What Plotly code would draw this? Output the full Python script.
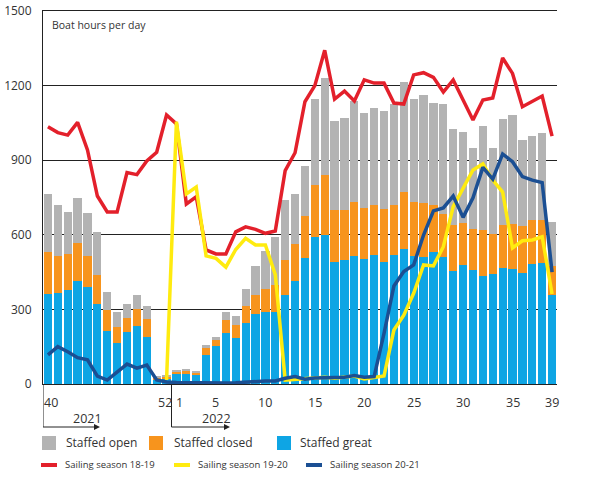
import plotly.graph_objects as go

# week numbers along the x axis (season 2021/2022)
weeks = [40, 41, 42, 43, 44, 45, 46, 47, 48, 49, 50, 51, 52] + list(range(1, 40))
week_ticks = [40, 52, 1, 5, 10, 15, 20, 25, 30, 35, 39]

staffed_great = [362, 367, 378, 414, 391, 322, 213, 166, 210, 235, 189, 18, 20,
                 40, 40, 40, 117, 153, 205, 185, 246, 281, 291, 291, 358, 414,
                 508, 590, 599, 492, 500, 514, 503, 519, 491, 519, 543, 515, 511,
                 531, 511, 454, 479, 458, 434, 442, 466, 462, 446, 483, 487, 358]
staffed_closed = [170, 148, 145, 154, 124, 116, 85, 65, 57, 68, 72, 7, 12,
                  12, 14, 8, 29, 24, 52, 52, 67, 77, 92, 107, 142, 149,
                  169, 212, 241, 208, 200, 219, 205, 201, 214, 201, 229, 217, 217,
                  189, 173, 185, 170, 165, 185, 161, 173, 181, 189, 176, 172, 117]
staffed_open = [232, 205, 169, 179, 173, 173, 72, 59, 55, 55, 53, 4, 5,
                4, 6, 4, 11, 12, 32, 36, 69, 116, 152, 194, 240, 201,
                199, 344, 390, 359, 369, 405, 382, 390, 393, 406, 443, 414, 434,
                410, 441, 386, 364, 326, 418, 346, 427, 439, 346, 338, 350, 176]

season_18_19 = [1035, 1011, 1001, 1052, 941, 756, 692, 692, 850, 842, 897, 932, 1082,
                1046, 724, 753, 539, 523, 523, 612, 632, 622, 606, 615, 858, 930,
                1135, 1200, 1342, 1146, 1178, 1138, 1223, 1210, 1210, 1130, 1126, 1243, 1252,
                1233, 1174, 1223, 1142, 1062, 1142, 1150, 1311, 1249, 1115, 1138, 1158, 997]
season_19_20 = [None] * 12 + [16,
                1055, 764, 792, 515, 505, 470, 541, 586, 559, 559, 440, 16, 19,
                23, 27, 27, 23, 27, 32, 20, 27, 32, 217, 277, 365, 479,
                475, 552, 713, 787, 861, 885, 820, 772, 547, 576, 579, 592, 362]
season_20_21 = [117, 150, 130, 106, 97, 32, 16, 50, 80, 64, 76, 16, 8,
                6, 5, 5, 5, 5, 4, 5, 8, 9, 12, 12, 23, 30,
                19, 24, 24, 24, 27, 34, 27, 30, 204, 394, 452, 479, 599,
                696, 708, 756, 670, 749, 871, 824, 925, 894, 834, 820, 810, 450]

GREY = "#b3b3b3"
ORANGE = "#f7941d"
BLUE = "#0ea5e4"
RED = "#e3202b"
YELLOW = "#ffeb0f"
NAVY = "#1b4f93"
TEXT = "#333333"
AXIS = "#222222"
FONT = "Open Sans"

W, H = 593, 477
PLOT_L, PLOT_R, PLOT_T, PLOT_B = 43, 557, 11, 384  # plot area in pixels
PW, PH = PLOT_R - PLOT_L, PLOT_B - PLOT_T


def px_x(p):
    return (p - PLOT_L) / PW


def px_y(p):
    return (PLOT_B - p) / PH


x = list(range(len(weeks)))

fig = go.Figure()
for name, vals, color in [
    ("Staffed great", staffed_great, BLUE),
    ("Staffed closed", staffed_closed, ORANGE),
    ("Staffed open", staffed_open, GREY),
]:
    fig.add_trace(go.Bar(name=name, x=x, y=vals, marker_color=color, marker_line_width=0))

for name, vals, color in [
    ("Sailing season 18-19", season_18_19, RED),
    ("Sailing season 19-20", season_19_20, YELLOW),
    ("Sailing season 20-21", season_20_21, NAVY),
]:
    fig.add_trace(go.Scatter(name=name, x=x, y=vals, mode="lines",
                             line={"color": color, "width": 3.5}, connectgaps=False))

annotations = []
shapes = []

# week tick labels
tick_shift = {40: 3, 52: -2, 1: 3}
for w in week_ticks:
    annotations.append(dict(x=weeks.index(w), y=px_y(402), xref="x", yref="paper",
                            text=str(w), showarrow=False, xanchor="center", yanchor="middle",
                            xshift=tick_shift.get(w, 0), font={"size": 12.5, "color": TEXT}))

# year markers: drop line from the axis, then an arrow to the right
split = weeks.index(1) - 0.5
for start, label, label_x, tip in [(-0.5, "2021", 4.0, 100), (split, "2022", 17.1, 230)]:
    shapes.append(dict(type="line", xref="x", yref="paper", x0=start, x1=start,
                       y0=0, y1=px_y(427), line={"color": AXIS, "width": 1}))
    shapes.append(dict(type="line", xref="x", yref="paper", x0=start, x1=(tip - 4 - PLOT_L) / PW * len(weeks) - 0.5,
                       y0=px_y(427), y1=px_y(427), line={"color": AXIS, "width": 1}))
    shapes.append(dict(type="path", xref="paper", yref="paper",
                       path=f"M{px_x(tip)},{px_y(427)} L{px_x(tip - 6)},{px_y(424)} "
                            f"L{px_x(tip - 6)},{px_y(430)} Z",
                       fillcolor=AXIS, line={"width": 0}))
    annotations.append(dict(x=label_x, y=px_y(418), xref="x", yref="paper", text=label,
                            showarrow=False, yanchor="middle", font={"size": 12.5, "color": TEXT}))

annotations.append(dict(x=px_x(50), y=px_y(25), xref="paper", yref="paper",
                        text="Boat hours per day", showarrow=False, xanchor="left",
                        yanchor="middle", font={"size": 10.5, "color": TEXT}))

# custom legend
for label, color, sx, tx in [("Staffed open", GREY, 42, 64),
                             ("Staffed closed", ORANGE, 149, 172),
                             ("Staffed great", BLUE, 277, 298)]:
    shapes.append(dict(type="rect", xref="paper", yref="paper", x0=px_x(sx), x1=px_x(sx + 14),
                       y0=px_y(436), y1=px_y(450), fillcolor=color, line={"width": 0}))
    annotations.append(dict(x=px_x(tx), y=px_y(443), xref="paper", yref="paper", text=label,
                            showarrow=False, xanchor="left", yanchor="middle",
                            font={"size": 12, "color": TEXT}))

for label, color, sx, tx in [("Sailing season 18-19", RED, 41, 63),
                             ("Sailing season 19-20", YELLOW, 174, 196),
                             ("Sailing season 20-21", NAVY, 306, 328)]:
    shapes.append(dict(type="line", xref="paper", yref="paper", x0=px_x(sx), x1=px_x(sx + 16),
                       y0=px_y(465), y1=px_y(465), line={"color": color, "width": 4}))
    annotations.append(dict(x=px_x(tx), y=px_y(465), xref="paper", yref="paper", text=label,
                            showarrow=False, xanchor="left", yanchor="middle",
                            font={"size": 9.5, "color": TEXT}))

fig.update_layout(
    template="none",
    width=W,
    height=H,
    margin=dict(l=PLOT_L, r=W - PLOT_R, t=PLOT_T, b=H - PLOT_B),
    paper_bgcolor="white",
    plot_bgcolor="white",
    font={"family": FONT, "color": TEXT},
    barmode="stack",
    bargap=0.17,
    showlegend=False,
    xaxis=dict(range=[-0.5, len(weeks) - 0.5], showgrid=False, showticklabels=False,
               showline=True, mirror=True, linecolor=AXIS, linewidth=1,
               zeroline=False, automargin=False, ticks=""),
    yaxis=dict(range=[0, 1500], tickvals=[0, 300, 600, 900, 1200, 1500],
               showgrid=True, gridcolor=AXIS, gridwidth=1, zeroline=False,
               showline=True, linecolor=AXIS, linewidth=1, automargin=False,
               ticks="", ticklabelstandoff=8, tickfont={"size": 12, "color": TEXT}),
    annotations=annotations,
    shapes=shapes,
)

# drop the browser's default body margin so the figure sits at the page corner
fig.write_html("out.html", config={"displayModeBar": False},
               post_script="document.body.style.margin = '0px';")
